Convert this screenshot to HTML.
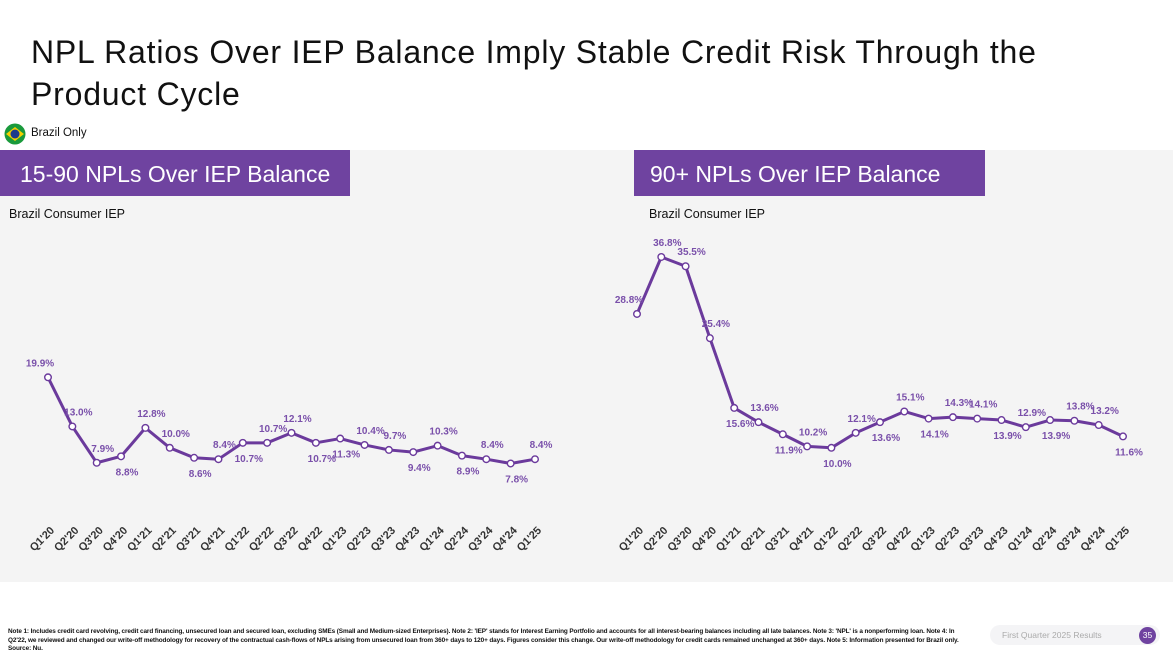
<!DOCTYPE html>
<html><head><meta charset="utf-8">
<style>
body{margin:0;width:1173px;height:660px;background:#fff;font-family:"Liberation Sans",sans-serif;position:relative;overflow:hidden;color:#111}
.t{position:absolute;left:31px;top:31px;font-size:32px;line-height:42px;letter-spacing:0.8px}
.panel{position:absolute;left:0;top:150px;width:1173px;height:432px;background:#f4f4f4}
.hdr{position:absolute;top:150px;height:46px;background:#6f43a0;color:#fff;font-size:23px;line-height:48px;padding-left:20px;box-sizing:border-box}
.sub{position:absolute;top:207px;font-size:12.5px}
.note{position:absolute;left:8px;top:628px;width:965px;font-size:6.4px;line-height:8.5px;font-weight:bold;letter-spacing:-0.1px}
</style></head><body>
<div class="t">NPL Ratios Over IEP Balance Imply Stable Credit Risk Through the<br>Product Cycle</div>
<svg style="position:absolute;left:4px;top:123px" width="22" height="22"><circle cx="11" cy="11" r="10.5" fill="#1a9a3c"/><polygon points="2,11 11,4 20,11 11,18" fill="#f5d000"/><circle cx="11" cy="11" r="4.5" fill="#1c3a8c"/></svg>
<div style="position:absolute;left:31px;top:127px;font-size:11.5px">Brazil Only</div>
<div class="panel"></div>
<div class="hdr" style="left:0;width:350px">15-90 NPLs Over IEP Balance</div>
<div class="hdr" style="left:634px;width:351px;padding-left:16px">90+ NPLs Over IEP Balance</div>
<div class="sub" style="left:9px">Brazil Consumer IEP</div>
<div class="sub" style="left:649px">Brazil Consumer IEP</div>
<svg id="ch" style="position:absolute;left:0;top:0" width="1173" height="600"></svg>
<div class="note">Note 1: Includes credit card revolving, credit card financing, unsecured loan and secured loan, excluding SMEs (Small and Medium-sized Enterprises). Note 2: 'IEP' stands for Interest Earning Portfolio and accounts for all interest-bearing balances including all late balances. Note 3: 'NPL' is a nonperforming loan. Note 4: In Q2'22, we reviewed and changed our write-off methodology for recovery of the contractual cash-flows of NPLs arising from unsecured loan from 360+ days to 120+ days. Figures consider this change. Our write-off methodology for credit cards remained unchanged at 360+ days. Note 5: Information presented for Brazil only. Source: Nu.</div>
<div style="position:absolute;left:990px;top:625px;width:170px;height:20px;background:#f4f4f6;border-radius:10px"><span style="position:absolute;left:12px;top:5px;font-size:8.5px;color:#aaa">First Quarter 2025 Results</span><span style="position:absolute;left:149px;top:2px;width:17px;height:17px;border-radius:50%;background:#6f43a0;color:#fff;font-size:8.5px;text-align:center;line-height:17px">35</span></div>
<script>
const categories=["Q1'20","Q2'20","Q3'20","Q4'20","Q1'21","Q2'21","Q3'21","Q4'21","Q1'22","Q2'22","Q3'22","Q4'22","Q1'23","Q2'23","Q3'23","Q4'23","Q1'24","Q2'24","Q3'24","Q4'24","Q1'25"];
const npl1590=[19.9,13.0,7.9,8.8,12.8,10.0,8.6,8.4,10.7,10.7,12.1,10.7,11.3,10.4,9.7,9.4,10.3,8.9,8.4,7.8,8.4];
const npl90=[28.8,36.8,35.5,25.4,15.6,13.6,11.9,10.2,10.0,12.1,13.6,15.1,14.1,14.3,14.1,13.9,12.9,13.9,13.8,13.2,11.6];
const pos1590=[1,1,1,0,1,1,0,1,0,1,1,0,0,1,1,0,1,0,1,0,1];
const pos90=[1,1,1,1,0,1,0,1,0,1,0,1,0,1,1,0,1,0,1,1,0];
const NS="http://www.w3.org/2000/svg",svg=document.getElementById('ch');
const yS=v=>519-v*7.12;
function mk(t,a){const e=document.createElementNS(NS,t);for(const k in a)e.setAttribute(k,a[k]);svg.appendChild(e);return e;}
function draw(vals,pos,x0,step,nm){
  const xS=i=>x0+i*step;
  const line=mk('polyline',{points:vals.map((v,i)=>xS(i)+','+yS(v)).join(' '),fill:'none',stroke:'#6b3a9c','stroke-width':3,'stroke-linejoin':'round'});
  
  
  vals.forEach((v,i)=>{
    const c=mk('circle',{cx:xS(i),cy:yS(v),r:3.3,fill:'#fff',stroke:'#6b3a9c','stroke-width':1.4});
    
    
    const up=pos[i];
    const t=mk('text',{x:xS(i)+(i==0?-8:6),y:yS(v)+(up?-11:19),'text-anchor':'middle','font-size':10,'font-weight':'bold',fill:'#7a50aa'});
    t.textContent=v.toFixed(1)+'%';
    
    
    const g=mk('text',{x:xS(i)+7,y:531,'text-anchor':'end','font-size':11,'font-weight':'bold',fill:'#333',transform:'rotate(-45 '+(xS(i)+7)+' 531)'});
    g.textContent=categories[i];
    
    
  });
}
draw(npl1590,pos1590,48,24.35,'npl-15-90');
draw(npl90,pos90,637,24.3,'npl-90-plus');
</script>
</body></html>
